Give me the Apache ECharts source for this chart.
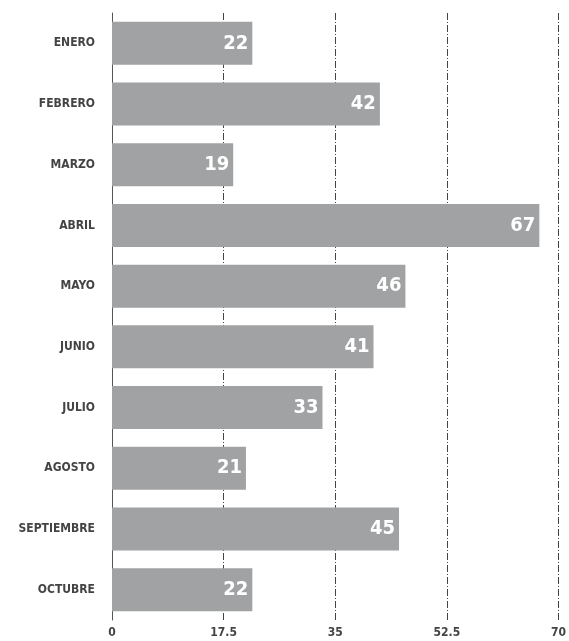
<!DOCTYPE html>
<html>
<head>
<meta charset="utf-8">
<style>
  html, body { margin: 0; padding: 0; background: #fff; }
  #chart { width: 569px; height: 641px; }
</style>
<script src="https://cdn.jsdelivr.net/npm/echarts@6/dist/echarts.min.js"></script>
</head>
<body>
<div id="chart"></div>
<script>
// meses y valores
var meses = ['ENERO', 'FEBRERO', 'MARZO', 'ABRIL', 'MAYO', 'JUNIO', 'JULIO', 'AGOSTO', 'SEPTIEMBRE', 'OCTUBRE'];
var valores = [22, 42, 19, 67, 46, 41, 33, 21, 45, 22];
var ticksX = [0, 17.5, 35, 52.5, 70];

var fuente = 'DejaVu Sans Condensed';
var chart = echarts.init(document.getElementById('chart'));

chart.setOption({
    animation: false,
    grid: {left: 112, right: 6, top: 13, bottom: 21, containLabel: false},
    xAxis: {
        type: 'value',
        min: ticksX[0],
        max: ticksX[ticksX.length - 1],
        interval: 17.5,
        axisLine: {show: false},
        axisTick: {show: false},
        axisLabel: {
            color: '#444',
            fontSize: 12,
            fontWeight: 'bold',
            fontFamily: fuente,
            margin: 7
        },
        splitLine: {
            show: true,
            lineStyle: {color: '#444', width: 1, type: [7, 2, 1, 2]}
        }
    },
    yAxis: {
        type: 'category',
        inverse: true,
        data: meses,
        axisLine: {show: true, lineStyle: {color: '#555', width: 1}},
        axisTick: {show: false},
        axisLabel: {
            color: '#444',
            fontSize: 12,
            fontWeight: 'bold',
            fontFamily: fuente,
            margin: 17
        }
    },
    series: [{
        type: 'bar',
        data: valores,
        barWidth: 43,
        z: 3,
        itemStyle: {color: '#a1a2a4'},
        label: {
            show: true,
            position: 'insideRight',
            distance: 4,
            color: '#fff',
            fontSize: 20,
            fontWeight: 'bold',
            fontFamily: fuente
        }
    }]
});
</script>
</body>
</html>
